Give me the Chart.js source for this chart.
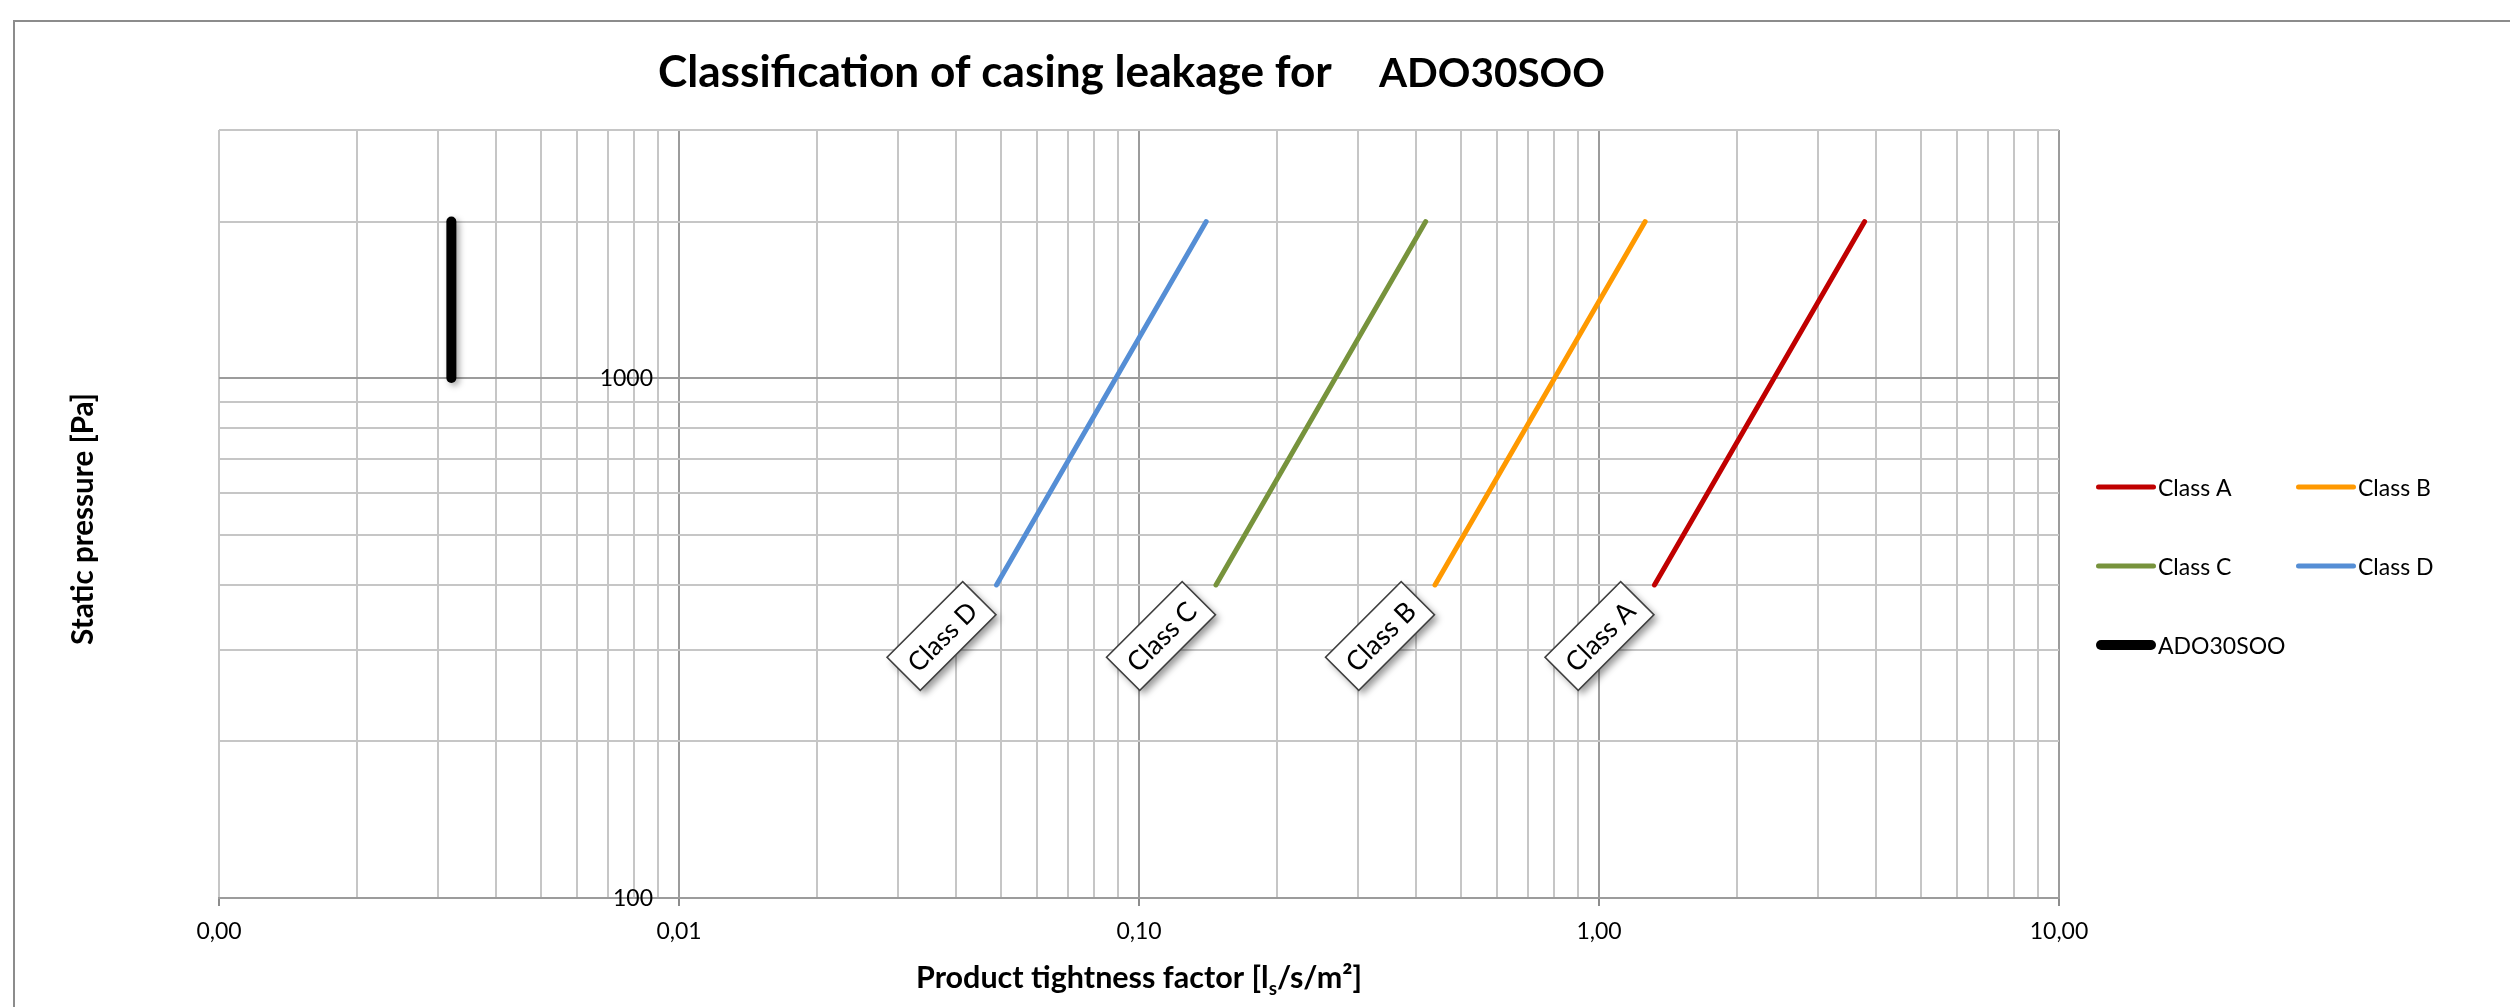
<!DOCTYPE html>
<html>
<head>
<meta charset="utf-8">
<script src="https://cdn.jsdelivr.net/npm/chart.js@4.4.1/dist/chart.umd.min.js"></script>
<style>
  html, body { margin: 0; padding: 0; background: #ffffff; overflow: hidden; }
  #wrap { width: 2510px; height: 1007px; position: relative; }
  canvas { display: block; }
</style>
</head>
<body>
<div id="wrap"><canvas id="c" width="2510" height="1007"></canvas></div>
<script>
// ---------------- data ----------------
const chartTitle = 'Classification of casing leakage for';
const productName = 'ADO30SOO';
const xTitleMain = 'Product tightness factor [l';
const xTitleSub = 's';
const xTitleEnd = '/s/m²]';
const yTitle = 'Static pressure [Pa]';

const seriesNames = ['Class A', 'Class B', 'Class C', 'Class D', 'ADO30SOO'];
const classPressure = [400, 2000];          // Pa
const classA = [1.32, 3.78];                // l/s/m²
const classB = [0.44, 1.26];
const classC = [0.147, 0.42];
const classD = [0.049, 0.14];
const productPressure = [1000, 2000];       // Pa
const productFactor = [0.0032, 0.0032];     // l/s/m²

const xGridValues = [0.001,0.002,0.003,0.004,0.005,0.006,0.007,0.008,0.009,
  0.01,0.02,0.03,0.04,0.05,0.06,0.07,0.08,0.09,
  0.1,0.2,0.3,0.4,0.5,0.6,0.7,0.8,0.9,
  1,2,3,4,5,6,7,8,9,10];
const xMajorValues = [0.001, 0.01, 0.1, 1, 10];
const xMajorLabels = ['0,00', '0,01', '0,10', '1,00', '10,00'];
const xDarkValues = [0.01, 0.1, 1, 10];
const yGridValues = [100,200,300,400,500,600,700,800,900,1000,2000,3000];
const yMajorValues = [100, 1000];
const yMajorLabels = ['100', '1000'];
const yAxisCrossesAt = 0.01;

// ---------------- helpers ----------------
const FONT = 'Lato, "Open Sans", "DejaVu Sans", sans-serif';
const same = (a, b) => Math.abs(a / b - 1) < 1e-6;
const inList = (v, list) => list.some(m => same(v, m));
const pts = (xs, ys) => xs.map((x, i) => ({ x: x, y: ys[i] }));

function fitSize(ctx, text, weight, target, base) {
  ctx.font = weight + ' ' + base + 'px ' + FONT;
  const w = ctx.measureText(text).width;
  return base * target / w;
}

const colors = ['#C00000', '#FF9900', '#77933C', '#558ED5', '#000000'];
const widths = [5, 5, 5, 5, 10];
const seriesData = [
  pts(classA, classPressure),
  pts(classB, classPressure),
  pts(classC, classPressure),
  pts(classD, classPressure),
  pts(productFactor, productPressure)
];

const datasets = seriesNames.map((name, i) => ({
  label: name,
  data: seriesData[i],
  showLine: true,
  borderColor: colors[i],
  backgroundColor: colors[i],
  borderWidth: widths[i],
  borderCapStyle: 'round',
  borderJoinStyle: 'round',
  pointRadius: 0,
  pointHoverRadius: 0,
  fill: false,
  tension: 0
}));

const MINOR = '#c6c6c6';
const MAJOR = '#9c9c9c';

const decor = {
  id: 'decor',
  beforeDraw(chart) {
    const ctx = chart.ctx;
    ctx.save();
    ctx.fillStyle = '#ffffff';
    ctx.fillRect(0, 0, chart.width, chart.height);
    ctx.strokeStyle = '#8c8c8c';
    ctx.lineWidth = 2;
    ctx.beginPath();
    ctx.moveTo(14, chart.height + 5);
    ctx.lineTo(14, 21);
    ctx.lineTo(chart.width + 5, 21);
    ctx.stroke();
    ctx.restore();
  },
  beforeDatasetDraw(chart, args) {
    if (args.index === 4) {
      const ctx = chart.ctx;
      ctx.save();
      ctx.shadowColor = 'rgba(0,0,0,0.35)';
      ctx.shadowBlur = 6;
      ctx.shadowOffsetX = 3;
      ctx.shadowOffsetY = 3;
    }
  },
  afterDatasetDraw(chart, args) {
    if (args.index === 4) chart.ctx.restore();
  },
  afterDraw(chart) {
    const ctx = chart.ctx;
    const xs = chart.scales.x, ys = chart.scales.y;
    const area = chart.chartArea;

    // ---- class labels (rotated boxes) ----
    for (let i = 0; i < 4; i++) {
      const ds = chart.data.datasets[i];
      const px = xs.getPixelForValue(ds.data[0].x);
      const py = ys.getPixelForValue(ds.data[0].y);
      const cx = px - 55, cy = py + 51;
      const bw = 107, bh = 47;
      ctx.save();
      ctx.translate(cx, cy);
      ctx.rotate(-Math.PI / 4);
      ctx.shadowColor = 'rgba(0,0,0,0.4)';
      ctx.shadowBlur = 7;
      ctx.shadowOffsetX = 4;
      ctx.shadowOffsetY = 4;
      ctx.fillStyle = '#ffffff';
      ctx.fillRect(-bw / 2, -bh / 2, bw, bh);
      ctx.shadowColor = 'rgba(0,0,0,0)';
      ctx.strokeStyle = '#404040';
      ctx.lineWidth = 1.6;
      ctx.strokeRect(-bw / 2, -bh / 2, bw, bh);
      ctx.fillStyle = '#000000';
      const ls = fitSize(ctx, ds.label, 'normal', 86, 27);
      ctx.font = Math.min(ls, 30) + 'px ' + FONT;
      ctx.textAlign = 'center';
      ctx.textBaseline = 'alphabetic';
      ctx.fillText(ds.label, 0, 10.5);
      ctx.restore();
    }

    // ---- title ----
    ctx.save();
    ctx.fillStyle = '#000000';
    const tSize = fitSize(ctx, chartTitle, 'bold', 674, 42);
    ctx.font = 'bold ' + tSize + 'px ' + FONT;
    ctx.textAlign = 'left';
    ctx.textBaseline = 'alphabetic';
    ctx.fillText(chartTitle, 658, 87);
    const pSize = fitSize(ctx, productName, 'bold', 226, 42);
    ctx.font = 'bold ' + Math.min(pSize, tSize) + 'px ' + FONT;
    ctx.fillText(productName, 1379, 87);
    ctx.restore();

    // ---- x axis title with subscript ----
    ctx.save();
    ctx.fillStyle = '#000000';
    const xtBase = 28;
    ctx.font = 'bold ' + xtBase + 'px ' + FONT;
    const w1 = ctx.measureText(xTitleMain).width;
    const w3 = ctx.measureText(xTitleEnd).width;
    ctx.font = 'bold ' + (xtBase * 0.62) + 'px ' + FONT;
    const w2 = ctx.measureText(xTitleSub).width;
    const total = 446;
    const scale = total / (w1 + w2 + w3);
    const fs = xtBase * scale;
    let x0 = (area.left + area.right) / 2 - total / 2;
    const base = 988;
    ctx.textAlign = 'left';
    ctx.textBaseline = 'alphabetic';
    ctx.font = 'bold ' + fs + 'px ' + FONT;
    ctx.fillText(xTitleMain, x0, base);
    x0 += w1 * scale;
    ctx.font = 'bold ' + (fs * 0.62) + 'px ' + FONT;
    ctx.fillText(xTitleSub, x0, base + fs * 0.22);
    x0 += w2 * scale;
    ctx.font = 'bold ' + fs + 'px ' + FONT;
    ctx.fillText(xTitleEnd, x0, base);
    ctx.restore();

    // ---- y axis title ----
    ctx.save();
    ctx.fillStyle = '#000000';
    const ytSize = fitSize(ctx, yTitle, 'bold', 252, 28);
    ctx.font = 'bold ' + ytSize + 'px ' + FONT;
    ctx.translate(93, (area.top + area.bottom) / 2 + 5);
    ctx.rotate(-Math.PI / 2);
    ctx.textAlign = 'center';
    ctx.textBaseline = 'alphabetic';
    ctx.fillText(yTitle, 0, 0);
    ctx.restore();

    // ---- y tick labels at the crossing axis ----
    ctx.save();
    ctx.fillStyle = '#000000';
    ctx.font = '23px ' + FONT;
    ctx.textAlign = 'right';
    ctx.textBaseline = 'alphabetic';
    const axX = xs.getPixelForValue(yAxisCrossesAt);
    yMajorValues.forEach((v, i) => {
      ctx.fillText(yMajorLabels[i], axX - 26, ys.getPixelForValue(v) + 8);
    });
    ctx.restore();

    // ---- legend (2 columns) ----
    ctx.save();
    ctx.font = '23px ' + FONT;
    ctx.textAlign = 'left';
    ctx.textBaseline = 'alphabetic';
    chart.data.datasets.forEach((ds, i) => {
      const col = i % 2, row = Math.floor(i / 2);
      const lx = 2098 + col * 200;
      const ly = 487 + row * 79;
      ctx.strokeStyle = ds.borderColor;
      ctx.lineWidth = ds.borderWidth;
      ctx.lineCap = 'round';
      ctx.beginPath();
      ctx.moveTo(lx + ds.borderWidth / 2 - 2, ly);
      ctx.lineTo(lx + 56 - ds.borderWidth / 2 + 2, ly);
      ctx.stroke();
      ctx.fillStyle = '#000000';
      ctx.fillText(ds.label, lx + 60, ly + 8.5);
    });
    ctx.restore();
  }
};

const cfg = {
  type: 'scatter',
  data: { datasets: datasets },
  options: {
    responsive: false,
    animation: false,
    devicePixelRatio: 1,
    events: [],
    layout: { padding: { left: 219, top: 130, right: 451, bottom: 0 } },
    plugins: {
      legend: { display: false },
      title: { display: false },
      tooltip: { enabled: false }
    },
    scales: {
      x: {
        type: 'logarithmic',
        position: 'bottom',
        min: 0.001,
        max: 10,
        afterBuildTicks: s => { s.ticks = xGridValues.map(v => ({ value: v })); },
        afterFit: s => { s.height = 109; },
        ticks: {
          autoSkip: false,
          maxRotation: 0,
          minRotation: 0,
          padding: 12,
          color: '#000000',
          font: { family: FONT, size: 23 },
          callback: (v) => {
            const k = xMajorValues.findIndex(m => same(v, m));
            return k >= 0 ? xMajorLabels[k] : '';
          }
        },
        grid: {
          color: c => (c.tick && inList(c.tick.value, xDarkValues)) ? MAJOR : MINOR,
          lineWidth: 2,
          drawTicks: true,
          tickLength: 8,
          tickWidth: 2,
          tickColor: c => (c.tick && inList(c.tick.value, xMajorValues)) ? '#8c8c8c' : 'rgba(0,0,0,0)'
        },
        border: { display: true, color: '#9c9c9c', width: 2 }
      },
      y: {
        type: 'logarithmic',
        position: 'left',
        min: 100,
        max: 3000,
        afterBuildTicks: s => { s.ticks = yGridValues.map(v => ({ value: v })); },
        afterFit: s => { s.width = 0; },
        ticks: { display: false },
        grid: {
          color: c => (c.tick && inList(c.tick.value, yMajorValues)) ? MAJOR : MINOR,
          lineWidth: 2,
          drawTicks: false
        },
        border: { display: false }
      }
    }
  },
  plugins: [decor]
};

new Chart(document.getElementById('c'), cfg);
</script>
</body>
</html>
